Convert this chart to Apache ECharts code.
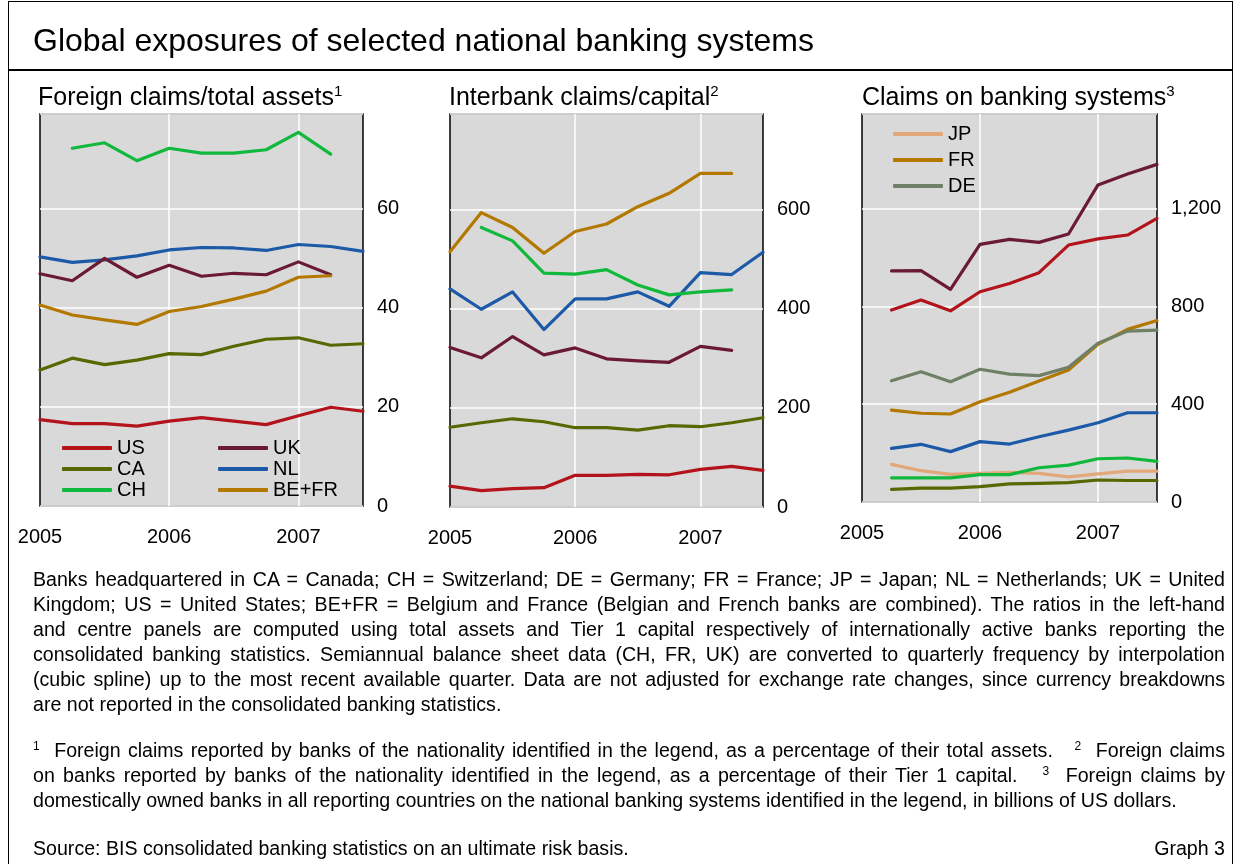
<!DOCTYPE html>
<html>
<head>
<meta charset="utf-8">
<script src="https://cdn.jsdelivr.net/npm/echarts@6.0.0/dist/echarts.min.js"></script>
<style>
  html, body { margin: 0; padding: 0; background: #fff; }
  body { width: 1241px; height: 864px; position: relative; overflow: hidden;
         font-family: "Liberation Sans", Arial, sans-serif; color: #000; }
  #chart { position: absolute; left: 0; top: 0; width: 1241px; height: 864px; }
  .frame { position: absolute; left: 8px; top: 1px; width: 1225px; height: 900px;
           border: 1.5px solid #000; box-sizing: border-box; pointer-events: none; }
  .sep { position: absolute; left: 8px; top: 69px; width: 1225px; height: 1.5px; background: #000; }
  .title { position: absolute; left: 33px; top: 24px; font-size: 32px; line-height: 32px; white-space: nowrap; }
  .sub { position: absolute; top: 84px; font-size: 25px; line-height: 25px; white-space: nowrap; }
  sup { font-size: 15px; line-height: 0; vertical-align: baseline; position: relative; top: -0.62em; }
  .notes { position: absolute; left: 33px; width: 1192px; font-size: 19.6px; line-height: 25px; }
  .notes div { text-align: justify; text-align-last: justify; }
  .notes div.last { text-align: left; text-align-last: left; white-space: nowrap; }
  .notes sup { font-size: 12px; top: -0.55em; }
  .src { position: absolute; left: 33px; top: 836px; width: 1192px; font-size: 19.6px; line-height: 25px; }
  .src span.r { position: absolute; right: 0; top: 0; }
</style>
</head>
<body>
<div id="chart"></div>
<div class="frame"></div>
<div class="sep"></div>
<div class="title">Global exposures of selected national banking systems</div>
<div class="sub" style="left:38px">Foreign claims/total assets<sup>1</sup></div>
<div class="sub" style="left:449px">Interbank claims/capital<sup>2</sup></div>
<div class="sub" style="left:862px">Claims on banking systems<sup>3</sup></div>
<div class="notes" style="top:567px">
  <div>Banks headquartered in CA = Canada; CH = Switzerland; DE = Germany; FR = France; JP = Japan; NL = Netherlands; UK = United</div>
  <div>Kingdom; US = United States; BE+FR = Belgium and France (Belgian and French banks are combined). The ratios in the left-hand</div>
  <div>and centre panels are computed using total assets and Tier 1 capital respectively of internationally active banks reporting the</div>
  <div>consolidated banking statistics. Semiannual balance sheet data (CH, FR, UK) are converted to quarterly frequency by interpolation</div>
  <div>(cubic spline) up to the most recent available quarter. Data are not adjusted for exchange rate changes, since currency breakdowns</div>
  <div class="last">are not reported in the consolidated banking statistics.</div>
</div>
<div class="notes" style="top:738px">
  <div><sup>1</sup>&nbsp; Foreign claims reported by banks of the nationality identified in the legend, as a percentage of their total assets. &nbsp;&nbsp;<sup>2</sup>&nbsp; Foreign claims</div>
  <div>on banks reported by banks of the nationality identified in the legend, as a percentage of their Tier 1 capital. &nbsp;&nbsp;<sup>3</sup>&nbsp; Foreign claims by</div>
  <div class="last">domestically owned banks in all reporting countries on the national banking systems identified in the legend, in billions of US dollars.</div>
</div>
<div class="src">Source: BIS consolidated banking statistics on an ultimate risk basis.<span class="r">Graph 3</span></div>

<script>
// Quarterly categories, 2005 Q1 to 2007 Q3
const quarters = ['2005Q1','2005Q2','2005Q3','2005Q4','2006Q1','2006Q2','2006Q3','2006Q4','2007Q1','2007Q2','2007Q3'];

// Panel 1: Foreign claims / total assets (%)
const p1_US   = [17.4,16.6,16.6,16.1,17.1,17.8,17.1,16.4,18.2,19.9,19.1];
const p1_UK   = [46.8,45.4,49.9,46.1,48.5,46.3,46.9,46.6,49.2,46.6,null];
const p1_CA   = [27.4,29.8,28.5,29.4,30.7,30.5,32.2,33.6,33.9,32.4,32.7];
const p1_NL   = [50.2,49.1,49.6,50.4,51.6,52.1,52.0,51.5,52.7,52.3,51.3];
const p1_CH   = [null,72.1,73.2,69.6,72.1,71.1,71.1,71.8,75.3,70.9,null];
const p1_BEFR = [40.5,38.5,37.5,36.6,39.2,40.2,41.7,43.3,46.1,46.4,null];

// Panel 2: Interbank claims / capital (%)
const p2_US   = [42,33,37,39,64,64,66,65,76,82,74];
const p2_UK   = [322,301,344,307,321,299,295,292,324,316,null];
const p2_CA   = [161,170,178,172,160,160,155,164,162,170,180];
const p2_NL   = [440,399,434,358,420,420,434,405,473,469,514];
const p2_CH   = [null,564,537,472,470,479,448,428,434,438,null];
const p2_BEFR = [515,594,564,512,556,571,606,633,673,673,null];

// Panel 3: Claims on banking systems (USD bn)
const p3_CA = [null,52,57,57,63,74,76,79,90,88,88];
const p3_CH = [null,99,99,99,112,112,140,151,177,180,166];
const p3_JP = [null,154,128,113,117,121,117,103,115,126,126];
const p3_NL = [null,219,236,206,247,237,267,294,324,365,365];
const p3_FR = [null,376,363,360,410,449,495,540,645,706,742];
const p3_DE = [null,496,533,492,543,523,517,551,649,699,703];
const p3_US = [null,785,826,782,860,894,938,1051,1076,1092,1160];
const p3_UK = [null,945,946,870,1054,1074,1062,1096,1297,1342,1381];

// Y-axis settings per panel
const yMax = [79, 793, 1587];
const yStep = [20, 200, 400];

const colors = {
  'US': '#b3141b', 'UK': '#6b1a33', 'CA': '#566900', 'NL': '#1c5aa8',
  'CH': '#10b83c', 'BE+FR': '#b37800', 'FR': '#b37800', 'JP': '#e3a87a', 'DE': '#6f8066'
};

const FONT = '"Liberation Sans", Arial, sans-serif';

const grids = [
  { left: 40,  top: 114, width: 323, height: 392 },
  { left: 450, top: 114, width: 313, height: 393 },
  { left: 862, top: 114, width: 295, height: 388 }
].map(g => Object.assign(g, { show: true, backgroundColor: '#d9d9d9', borderColor: '#000', borderWidth: 1.5, containLabel: false }));

const isYear = (i) => i % 4 === 0;

const xAxes = [0,1,2].map(p => ({
  type: 'category', gridIndex: p, data: quarters, boundaryGap: false,
  axisLine: { show: false }, axisTick: { show: false },
  axisLabel: { interval: (i) => isYear(i), formatter: v => v.slice(0,4), fontSize: 20, color: '#000', margin: 21, fontFamily: FONT },
  splitLine: { show: true, interval: (i) => isYear(i) && i > 0, lineStyle: { color: '#fff', width: 1.5 } }
}));

const yAxes = [0,1,2].map(p => ({
  type: 'value', gridIndex: p, position: 'right', min: 0, max: yMax[p], interval: yStep[p],
  axisLine: { show: false }, axisTick: { show: false },
  axisLabel: { fontSize: 20, color: '#000', margin: 14, fontFamily: FONT,
    formatter: v => (v % yStep[p] === 0 && v < yMax[p]) ? v.toLocaleString('en-US') : '' },
  splitLine: { show: true, lineStyle: { color: '#fff', width: 1.5 } }
}));

function line(p, name, data) {
  return {
    type: 'line', name, xAxisIndex: p, yAxisIndex: p, data,
    symbol: 'none', silent: true, animation: false, connectNulls: false,
    lineStyle: { width: 3.2, color: colors[name], cap: 'round', join: 'round' },
    itemStyle: { color: colors[name] }
  };
}

const series = [
  line(0, 'CH', p1_CH), line(0, 'CA', p1_CA), line(0, 'US', p1_US),
  line(0, 'NL', p1_NL), line(0, 'UK', p1_UK), line(0, 'BE+FR', p1_BEFR),
  line(1, 'US', p2_US), line(1, 'CA', p2_CA), line(1, 'UK', p2_UK),
  line(1, 'NL', p2_NL), line(1, 'CH', p2_CH), line(1, 'BE+FR', p2_BEFR),
  line(2, 'CA', p3_CA), line(2, 'JP', p3_JP), line(2, 'CH', p3_CH), line(2, 'NL', p3_NL),
  line(2, 'FR', p3_FR), line(2, 'DE', p3_DE), line(2, 'US', p3_US), line(2, 'UK', p3_UK)
];

const legendBase = {
  orient: 'vertical', icon: 'roundRect', itemWidth: 50, itemHeight: 4, padding: 0,
  selectedMode: false, textStyle: { fontSize: 20, lineHeight: 20, color: '#000', fontFamily: FONT }
};

const option = {
  animation: false,
  grid: grids,
  xAxis: xAxes,
  yAxis: yAxes,
  legend: [
    Object.assign({}, legendBase, { left: 62,  top: 438, itemGap: 1, data: ['US', 'CA', 'CH'] }),
    Object.assign({}, legendBase, { left: 218, top: 438, itemGap: 1, data: ['UK', 'NL', 'BE+FR'] }),
    Object.assign({}, legendBase, { left: 893, top: 124, itemGap: 6, data: ['JP', 'FR', 'DE'] })
  ],
  series
};

const chart = echarts.init(document.getElementById('chart'), null, { renderer: 'canvas' });
chart.setOption(option);
</script>
</body>
</html>
